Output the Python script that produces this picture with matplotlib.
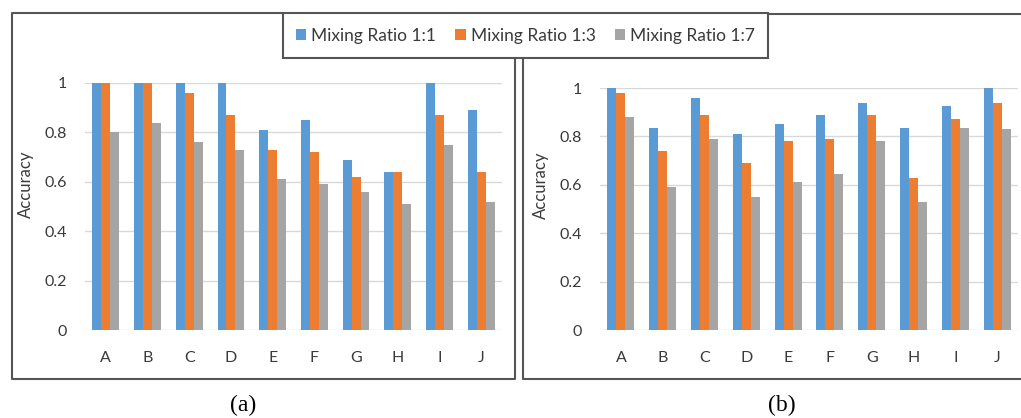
import numpy as np
import matplotlib
matplotlib.use("Agg")
import matplotlib.pyplot as plt
from matplotlib.patches import Rectangle, Patch
from matplotlib.lines import Line2D

categories = ["A", "B", "C", "D", "E", "F", "G", "H", "I", "J"]
series_names = ["Mixing Ratio 1:1", "Mixing Ratio 1:3", "Mixing Ratio 1:7"]
colors = ["#5B9BD5", "#ED7D31", "#A5A5A5"]

# panel (a)
a_11 = [1.00, 1.00, 1.00, 1.00, 0.81, 0.85, 0.69, 0.64, 1.00, 0.89]
a_13 = [1.00, 1.00, 0.96, 0.87, 0.73, 0.72, 0.62, 0.64, 0.87, 0.64]
a_17 = [0.80, 0.84, 0.76, 0.73, 0.61, 0.59, 0.56, 0.51, 0.75, 0.52]

# panel (b)
b_11 = [1.00, 0.835, 0.96, 0.81, 0.85, 0.89, 0.94, 0.835, 0.925, 1.00]
b_13 = [0.98, 0.74, 0.89, 0.69, 0.78, 0.79, 0.89, 0.63, 0.87, 0.94]
b_17 = [0.88, 0.59, 0.79, 0.55, 0.61, 0.645, 0.78, 0.53, 0.835, 0.83]

yticks = [0, 0.2, 0.4, 0.6, 0.8, 1]
ytick_labels = ["0", "0.2", "0.4", "0.6", "0.8", "1"]

W, H = 1021, 418
fig = plt.figure(figsize=(W / 100, H / 100), dpi=100)
font = "Lato"
txt = "#3a3a3a"


def px(x0, y0, x1, y1):
    # pixel box (top-left origin) -> figure fraction rect
    return [x0 / W, 1 - y1 / H, (x1 - x0) / W, (y1 - y0) / H]


def panel(rect, data, label_y):
    ax = fig.add_axes(rect)
    x = np.arange(len(categories))
    w = 0.215
    for k, vals in enumerate(data):
        ax.bar(x + (k - 1) * w, vals, width=w, color=colors[k], zorder=3)
    ax.set_xlim(-0.5, len(categories) - 0.5)
    ax.set_ylim(0, 1)
    ax.set_yticks(yticks)
    ax.set_yticklabels(ytick_labels)
    ax.set_xticks(x)
    ax.set_xticklabels(categories)
    ax.yaxis.grid(True, color="#D9D9D9", linewidth=1, zorder=0)
    ax.set_axisbelow(True)
    for s in ax.spines.values():
        s.set_visible(False)
    ax.tick_params(length=0, labelsize=11.5, labelcolor=txt)
    ax.tick_params(axis="y", pad=13)
    ax.tick_params(axis="x", pad=15)
    for lab in ax.get_xticklabels() + ax.get_yticklabels():
        lab.set_fontfamily(font)
    ax.set_ylabel("Accuracy", fontsize=12, color=txt, fontfamily=font)
    ax.yaxis.set_label_coords(-0.122, label_y)
    return ax


ax1 = panel(px(85, 83, 502, 330), [a_11, a_13, a_17], 0.59)
ax2 = panel(px(600, 88, 1018, 330), [b_11, b_13, b_17], 0.6)

# frames drawn in pixel coords
edge = "#555555"
lw = 1.5


def fline(xs, ys):
    fig.add_artist(Line2D([v / W for v in xs], [1 - v / H for v in ys],
                          color=edge, linewidth=lw, transform=fig.transFigure))


fline([283, 12, 12, 515, 515], [13, 13, 379, 379, 58])
fline([523, 523, 1021], [58, 379, 379])
fline([768, 1021], [14, 14])
fig.add_artist(Rectangle((283 / W, 1 - 58 / H), (768 - 283) / W, 45 / H,
                         fill=False, edgecolor=edge, linewidth=lw,
                         transform=fig.transFigure))

handles = [Patch(facecolor=c, edgecolor="none") for c in colors]
fig.legend(handles, series_names, loc="center", ncol=3,
           bbox_to_anchor=((283 + 768) / 2 / W, 1 - 35.5 / H),
           frameon=False, prop={"family": font, "size": 12.5},
           handlelength=0.6, handleheight=0.6, handletextpad=0.3,
           columnspacing=1.1, labelcolor=txt)

fig.text(243 / W, 1 - 405 / H, "(a)", ha="center", va="center",
         fontsize=17, fontfamily="Liberation Serif")
fig.text(782 / W, 1 - 405 / H, "(b)", ha="center", va="center",
         fontsize=17, fontfamily="Liberation Serif")

fig.savefig("out.png", dpi=100)
